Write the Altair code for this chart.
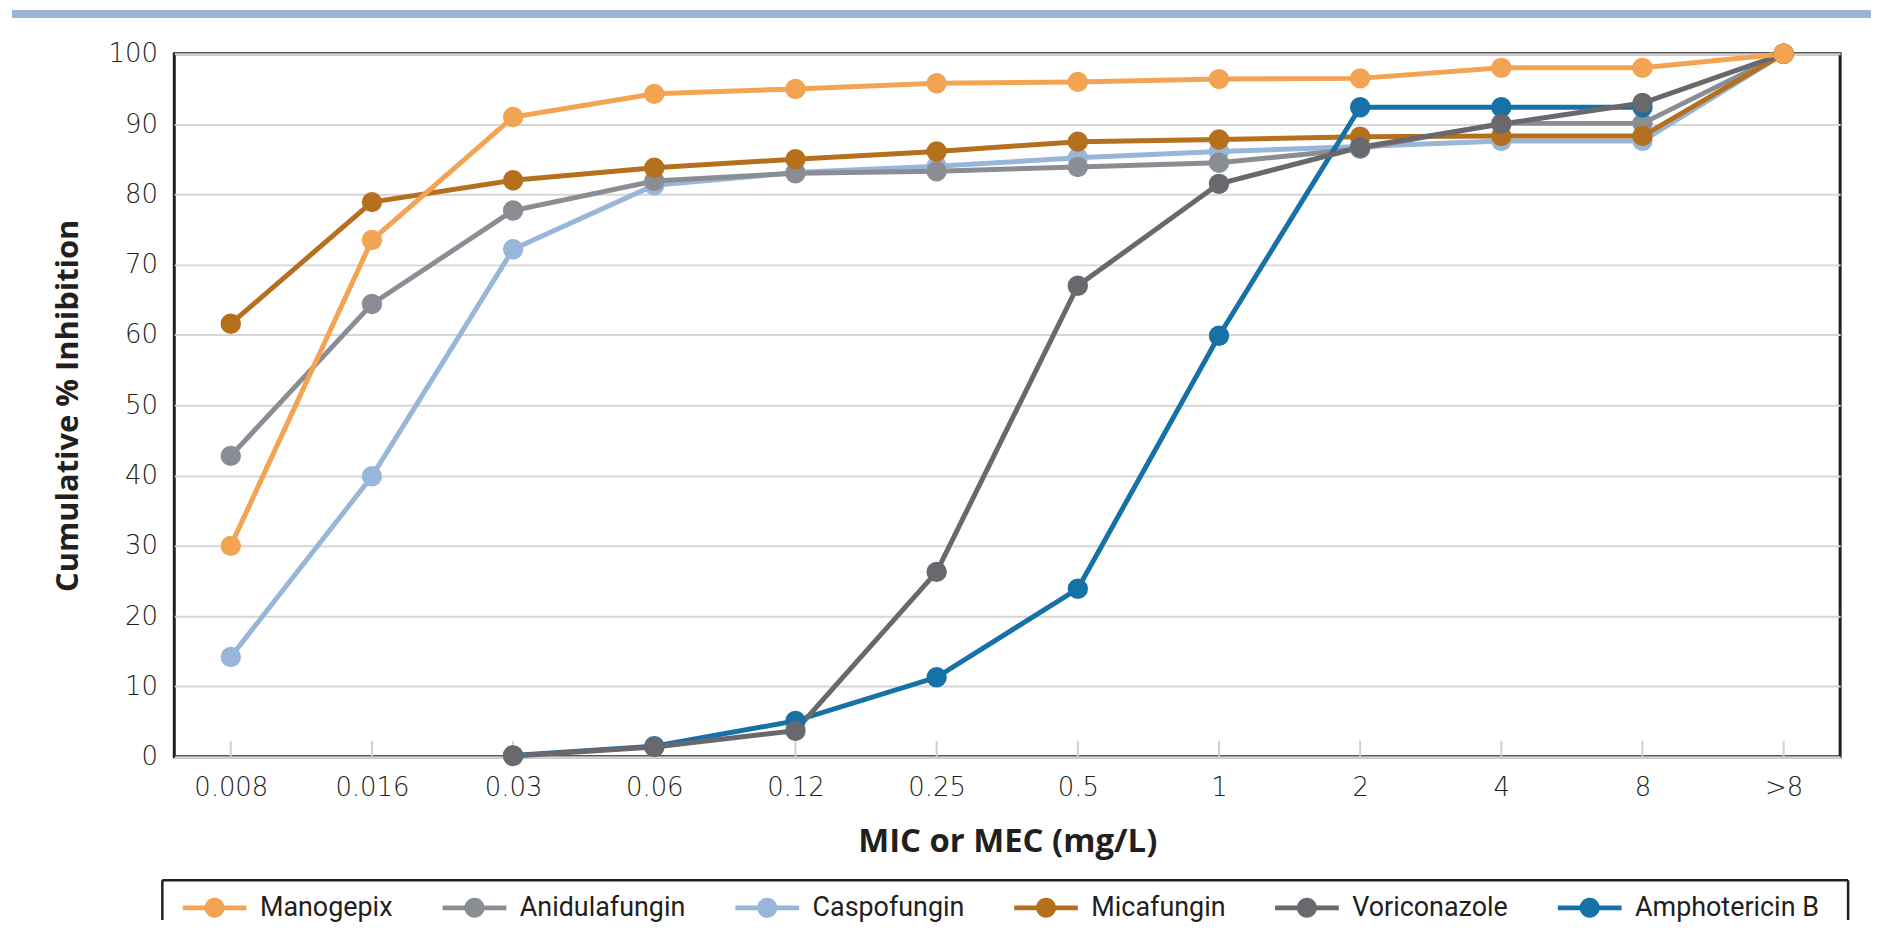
import altair as alt
import pandas as pd

categories = ["0.008", "0.016", "0.03", "0.06", "0.12", "0.25", "0.5", "1", "2", "4", "8", ">8"]

series_names = ["Manogepix", "Anidulafungin", "Caspofungin", "Micafungin", "Voriconazole", "Amphotericin B"]
series_colors = ["#F2A453", "#8A8E94", "#97B6D9", "#B5701E", "#68686D", "#1571A6"]

manogepix = [30.0, 73.5, 91.0, 94.3, 95.0, 95.8, 96.0, 96.4, 96.5, 98.0, 98.0, 100.0]
anidulafungin = [42.8, 64.4, 77.7, 81.9, 83.0, 83.3, 83.9, 84.5, 86.5, 90.1, 90.1, 100.0]
caspofungin = [14.2, 39.9, 72.2, 81.3, 83.1, 84.0, 85.2, 86.1, 86.8, 87.6, 87.6, 100.0]
micafungin = [61.6, 78.9, 82.0, 83.8, 85.0, 86.1, 87.5, 87.8, 88.2, 88.3, 88.3, 100.0]
voriconazole = [None, None, 0.1, 1.4, 3.7, 26.3, 67.0, 81.5, 86.7, 90.0, 93.0, 100.0]
amphotericin_b = [None, None, 0.2, 1.5, 5.1, 11.3, 23.9, 59.9, 92.4, 92.4, 92.4, None]

# drawing order (bottom -> top)
draw_order = [
    ("Caspofungin", caspofungin),
    ("Anidulafungin", anidulafungin),
    ("Micafungin", micafungin),
    ("Amphotericin B", amphotericin_b),
    ("Voriconazole", voriconazole),
    ("Manogepix", manogepix),
]

rows = []
for name, vals in draw_order:
    for c, v in zip(categories, vals):
        if v is not None:
            rows.append({"MIC": c, "Drug": name, "Pct": v})
df = pd.DataFrame(rows)
ticks_df = pd.DataFrame({"MIC": categories})
one_df = ticks_df.head(1)

W, H = 1673, 706
INK = "#231F20"

x_enc = alt.X(
    "MIC:N",
    sort=categories,
    scale=alt.Scale(type="point", padding=0.4, domain=categories),
    axis=alt.Axis(
        title="MIC or MEC (mg/L)",
        labelAngle=0,
        ticks=False,
        domain=False,
        grid=False,
        labelPadding=18,
        titlePadding=25,
        titleFontSize=33,
    ),
)
y_enc = alt.Y(
    "Pct:Q",
    scale=alt.Scale(domain=[0, 100], nice=False, zero=True),
    axis=alt.Axis(
        title="Cumulative % Inhibition",
        values=list(range(0, 101, 10)),
        ticks=False,
        domain=False,
        grid=True,
        labelPadding=17,
        titlePadding=24,
        titleFontSize=31,
    ),
)
color_scale = alt.Scale(domain=series_names, range=series_colors)

LINE_PATH = "M-2.286,0L2.286,0"
CIRCLE_PATH = LINE_PATH + "M-0.72,0A0.72,0.72 0 1,0 0.72,0A0.72,0.72 0 1,0 -0.72,0Z"

legend_common = dict(
    title=None,
    orient="none",
    legendX=24,
    legendY=841,
    direction="horizontal",
    columns=6,
    symbolSize=784,
    symbolStrokeWidth=5,
    labelFont="Roboto",
    labelFontSize=27,
    labelColor=INK,
    labelOffset=29,
    labelLimit=0,
    columnPadding=39,
    padding=0,
)

lines = alt.Chart(df).mark_line(strokeWidth=5).encode(
    x=x_enc,
    y=y_enc,
    color=alt.Color(
        "Drug:N",
        scale=color_scale,
        legend=alt.Legend(symbolType=LINE_PATH, **legend_common),
    ),
    detail="Drug:N",
)

points = alt.Chart(df).mark_circle(size=420, opacity=1).encode(
    x=x_enc,
    y=y_enc,
    color=alt.Color(
        "Drug:N",
        scale=color_scale,
        legend=alt.Legend(
            symbolType=CIRCLE_PATH,
            symbolStrokeColor="transparent",
            labelOpacity=0,
            **legend_common,
        ),
    ),
)

ticks = alt.Chart(ticks_df).mark_rule(color="#D0D0D0", strokeWidth=2).encode(
    x=x_enc,
    y=alt.value(H),
    y2=alt.value(H - 16),
)

band = alt.Chart(one_df).mark_rule(color="#99B6D8", strokeWidth=8).encode(
    x=alt.value(-163),
    x2=alt.value(W + 31),
    y=alt.value(-40),
)

# legend frame (top edge and both sides; bottom edge falls below the picture)
BOX_L, BOX_R, BOX_T, BOX_B = -12, 1681, 830, 870
frame_top = alt.Chart(one_df).mark_rule(color=INK, strokeWidth=2.5).encode(
    x=alt.value(BOX_L), x2=alt.value(BOX_R), y=alt.value(BOX_T)
)
frame_left = alt.Chart(one_df).mark_rule(color=INK, strokeWidth=2.5).encode(
    x=alt.value(BOX_L), y=alt.value(BOX_T), y2=alt.value(BOX_B)
)
frame_right = alt.Chart(one_df).mark_rule(color=INK, strokeWidth=2.5).encode(
    x=alt.value(BOX_R), y=alt.value(BOX_T), y2=alt.value(BOX_B)
)

chart = (
    alt.layer(band, frame_top, frame_left, frame_right, ticks, lines, points)
    .resolve_legend(color="independent")
    .properties(width=W, height=H, padding=0)
    .configure_view(stroke=INK, strokeWidth=3)
    .configure_axis(
        labelFont="DejaVu Sans",
        labelFontSize=26,
        labelFontWeight=200,
        labelColor=INK,
        titleFont="Open Sans",
        titleFontWeight="bold",
        titleColor=INK,
        gridColor="#D6D6D6",
        gridWidth=2,
    )
)

chart.save("out.html", embed_options={"renderer": "svg", "actions": False})
